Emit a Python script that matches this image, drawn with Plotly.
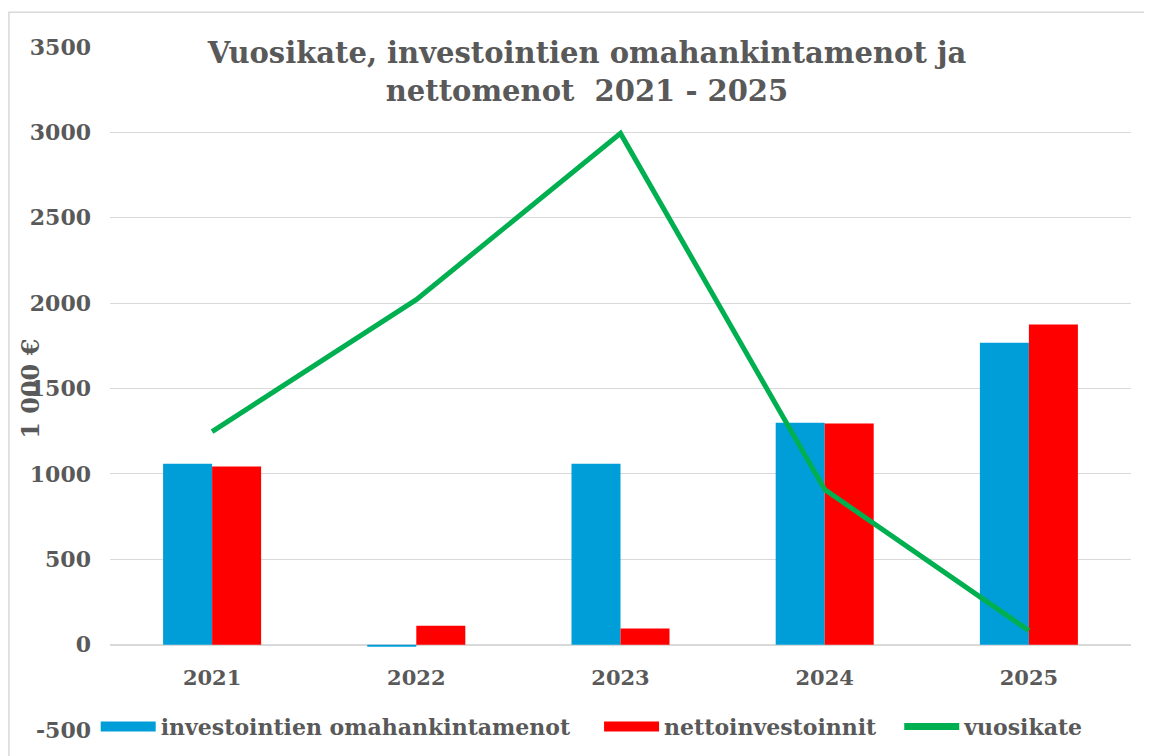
import plotly.graph_objects as go

years = ["2021", "2022", "2023", "2024", "2025"]
omahankinta = [1060, -12, 1060, 1300, 1768]
nettoinvest = [1043, 111, 94, 1295, 1875]
vuosikate = [1248, 2020, 2994, 908, 82]

y_ticks = [-500, 0, 500, 1000, 1500, 2000, 2500, 3000, 3500]
y_ticktext = ["-500", "0", "500", "1000", "1500", "2000", "2500", "3000", "3500"]

names = ["investointien omahankintamenot", "nettoinvestoinnit", "vuosikate"]
colors = ["#009ED8", "#FF0000", "#00B050"]

grey = "#595959"
font_name = "DejaVu Serif"

fig = go.Figure()
fig.add_trace(go.Bar(x=years, y=omahankinta, name=names[0], showlegend=False,
                     marker=dict(color=colors[0], line=dict(width=0))))
fig.add_trace(go.Bar(x=years, y=nettoinvest, name=names[1], showlegend=False,
                     marker=dict(color=colors[1], line=dict(width=0))))
fig.add_trace(go.Scatter(x=years, y=vuosikate, name=names[2], mode="lines", showlegend=False,
                         line=dict(color=colors[2], width=5)))

# legend entries (wide swatches like the original)
legend_ids = ["legend", "legend2", "legend3"]
swatch_w = [13, 13, 7]
for nm, col, lg, w in zip(names, colors, legend_ids, swatch_w):
    fig.add_trace(go.Scatter(x=[None], y=[None], mode="lines", name="<b>" + nm + "</b>",
                             line=dict(color=col, width=w), legend=lg, showlegend=True))

leg_common = dict(orientation="h", xanchor="left", y=0.005, yanchor="middle",
                  bgcolor="rgba(0,0,0,0)", font=dict(family=font_name, size=22, color=grey),
                  itemwidth=55)

fig.update_layout(
    width=1152, height=756,
    margin=dict(l=102, r=29, t=39, b=34),
    plot_bgcolor="white", paper_bgcolor="white",
    bargap=0.52, bargroupgap=0,
    font=dict(family=font_name, color=grey),
    title=dict(text="<b>Vuosikate, investointien omahankintamenot ja<br>nettomenot  2021 - 2025</b>",
               x=0.5026, xref="container", xanchor="center",
               y=0.927, yanchor="middle",
               font=dict(family=font_name, size=29, color=grey)),
    legend=dict(x=-0.014, **leg_common),
    legend2=dict(x=0.479, **leg_common),
    legend3=dict(x=0.773, **leg_common),
)

fig.update_yaxes(range=[-500, 3500], tickmode="array", tickvals=y_ticks,
                 ticktext=["<b>" + t + "</b>" for t in y_ticktext],
                 showgrid=True, gridcolor="#d9d9d9", gridwidth=1.3,
                 zeroline=True, zerolinecolor="#d9d9d9", zerolinewidth=1.5,
                 tickfont=dict(family=font_name, size=22, color=grey),
                 ticks="", ticklabelstandoff=18, showline=False, automargin=False)
fig.update_xaxes(anchor="free", position=0.125, showline=False, ticks="", automargin=False,
                 tickfont=dict(family=font_name, size=21, color=grey),
                 ticklabelstandoff=18, tickprefix="<b>", ticksuffix="</b>")

fig.add_annotation(text="<b>1 000 €</b>", textangle=-90, xref="paper", yref="paper",
                   x=-0.078, y=0.5, xanchor="center", yanchor="middle", showarrow=False,
                   font=dict(family=font_name, size=24, color=grey))

# outer chart border
fig.add_shape(type="rect", xref="paper", yref="paper", x0=-0.099, y0=-0.2, x1=1.2, y1=1.051,
              line=dict(color="#d9d9d9", width=1.5), layer="below")

fig.write_html("out.html")
